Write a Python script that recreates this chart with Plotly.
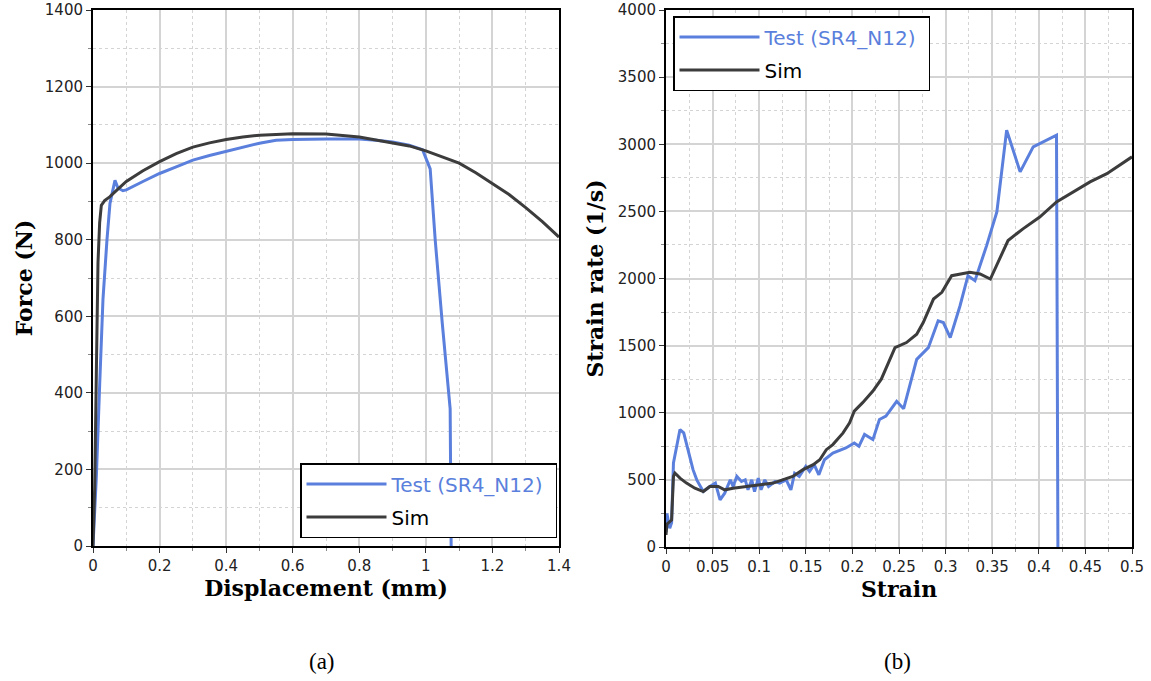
import plotly.graph_objects as go

# ---------------- data ----------------
# (a) Force vs displacement
test_disp = [0, 0.01, 0.02, 0.03, 0.042, 0.051, 0.066, 0.075, 0.09, 0.1, 0.15, 0.2, 0.25, 0.3, 0.35,
             0.4, 0.45, 0.5, 0.55, 0.6, 0.7, 0.8, 0.85, 0.9, 0.95, 0.99, 1.013, 1.028, 1.049,
             1.073, 1.076]
test_force = [0, 180, 420, 645, 800, 895, 955, 935, 928, 930, 952, 973, 990, 1008, 1020,
              1030, 1042, 1052, 1060, 1062, 1063, 1063, 1060, 1055, 1047, 1035, 985, 800, 585,
              358, 0]

sim_disp = [0, 0.005, 0.01, 0.015, 0.02, 0.025, 0.035, 0.05, 0.07, 0.1, 0.15, 0.2, 0.25, 0.3,
            0.35, 0.4, 0.45, 0.5, 0.6, 0.7, 0.8, 0.9, 0.95, 1.0, 1.05, 1.1, 1.15, 1.2, 1.25,
            1.3, 1.35, 1.4]
sim_force = [0, 150, 450, 740, 845, 890, 902, 912, 928, 952, 980, 1004, 1025, 1042, 1053,
             1062, 1068, 1073, 1077, 1076, 1068, 1053, 1045, 1032, 1017, 1000, 975, 947, 918,
             884, 847, 807]

# (b) Strain rate vs strain
test_strain = [0, 0.001, 0.004, 0.006, 0.008, 0.015, 0.019, 0.029, 0.033, 0.04, 0.047, 0.053,
               0.058, 0.063, 0.069, 0.072, 0.076, 0.081, 0.085, 0.088, 0.092, 0.095, 0.099,
               0.102, 0.106, 0.110, 0.117, 0.122, 0.129, 0.134, 0.138, 0.143, 0.150, 0.154,
               0.159, 0.164, 0.170, 0.179, 0.193, 0.202, 0.207, 0.213, 0.222, 0.229, 0.236,
               0.2475, 0.255, 0.269, 0.2815, 0.292, 0.2976, 0.305, 0.3155, 0.324, 0.3315,
               0.344, 0.355, 0.3655, 0.38, 0.394, 0.419, 0.4205]
test_rate = [110, 250, 140, 180, 626, 875, 850, 576, 500, 413, 451, 476,
             351, 401, 501, 451, 526, 488, 501, 426, 500, 413, 513,
             426, 500, 450, 488, 476, 500, 426, 550, 526, 600, 563,
             613, 538, 650, 700, 738, 775, 750, 838, 800, 950, 975,
             1085, 1030, 1398, 1485, 1685, 1672, 1560, 1797, 2021, 1984,
             2245, 2495, 3105, 2794, 2981, 3068, 0]

sim_strain = [0, 0.001, 0.006, 0.008, 0.0096, 0.015, 0.022, 0.031, 0.04, 0.047, 0.056, 0.063,
              0.072, 0.086, 0.1, 0.115, 0.125, 0.136, 0.147, 0.158, 0.165, 0.172, 0.179, 0.19,
              0.197, 0.202, 0.211, 0.222, 0.231, 0.2386, 0.2457, 0.258, 0.269, 0.276, 0.287,
              0.296, 0.3065, 0.326, 0.337, 0.348, 0.358, 0.367, 0.383, 0.401, 0.419, 0.437,
              0.455, 0.473, 0.5]
sim_rate = [90, 170, 200, 526, 551, 513, 476, 438, 413, 451, 451, 426,
            438, 451, 463, 476, 500, 526, 576, 613, 650, 725, 763, 850,
            925, 1012, 1075, 1162, 1250, 1373, 1485, 1523, 1585, 1672, 1847,
            1897, 2021, 2046, 2034, 1996, 2146, 2283, 2370, 2458, 2570, 2645,
            2720, 2781, 2906]

test_name = "Test (SR4_N12)"
sim_name = "Sim"
panel_labels = ["(a)", "(b)"]

# ---------------- style ----------------
BLUE = "#5a7fdc"
DARK = "#3c3c3c"
GRID = "#d4d4d4"
W, H = 1151, 681

fig = go.Figure()

test_label = f"<span style='color:{BLUE}'>{test_name}</span>&nbsp;"
fig.add_trace(go.Scatter(x=test_disp, y=test_force, mode="lines", name=test_label,
                         line=dict(color=BLUE, width=3), xaxis="x", yaxis="y",
                         legend="legend", legendgroup="t1"))
fig.add_trace(go.Scatter(x=sim_disp, y=sim_force, mode="lines", name=sim_name,
                         line=dict(color=DARK, width=3), xaxis="x", yaxis="y",
                         legend="legend", legendgroup="s1"))
fig.add_trace(go.Scatter(x=test_strain, y=test_rate, mode="lines", name=test_label,
                         line=dict(color=BLUE, width=3), xaxis="x2", yaxis="y2",
                         legend="legend2", legendgroup="t2"))
fig.add_trace(go.Scatter(x=sim_strain, y=sim_rate, mode="lines", name=sim_name,
                         line=dict(color=DARK, width=3), xaxis="x2", yaxis="y2",
                         legend="legend2", legendgroup="s2"))

tickfont = dict(family="DejaVu Sans", size=15, color="#222222")
titlefont = dict(family="DejaVu Serif", size=22, color="black", weight="bold")


def axis(dom, rng, dtick, minor, title, standoff, anchor):
    return dict(
        domain=dom, range=rng, dtick=dtick, tick0=0, anchor=anchor,
        showline=True, linecolor="black", linewidth=2, mirror=True,
        ticks="outside", ticklen=5, tickcolor="#333333", tickwidth=1,
        showgrid=True, gridcolor=GRID, gridwidth=1.5,
        minor=dict(dtick=minor, tick0=0, showgrid=True, gridcolor=GRID, griddash="dot",
                   gridwidth=1, ticks="outside", ticklen=3, tickcolor="#888888"),
        zeroline=False, tickfont=tickfont, automargin=False,
        title=dict(text=title, font=titlefont, standoff=standoff),
    )


legend_common = dict(xanchor="left", yanchor="top", bgcolor="white", bordercolor="black",
                     borderwidth=1.5, font=dict(family="DejaVu Sans", size=20, color="black"),
                     tracegroupgap=4, itemwidth=80)

fig.update_layout(
    width=W, height=H,
    margin=dict(l=0, r=0, t=0, b=0),
    paper_bgcolor="white", plot_bgcolor="white",
    xaxis=axis([93 / W, 559 / W], [0, 1.4], 0.2, 0.1, "Displacement (mm)", 3, "y"),
    yaxis=axis([1 - 546 / H, 1 - 10 / H], [0, 1400], 200, 100, "Force (N)", 6, "x"),
    xaxis2=axis([666 / W, 1132 / W], [0, 0.5], 0.05, 0.025, "Strain", 3, "y2"),
    yaxis2=axis([1 - 547 / H, 1 - 10 / H], [0, 4000], 500, 250, "Strain rate (1/s)", 8, "x2"),
    legend=dict(x=300 / W, y=1 - 463 / H, **legend_common),
    legend2=dict(x=673 / W, y=1 - 16 / H, **legend_common),
    showlegend=True,
)

for lab, xc in zip(panel_labels, [322, 897]):
    fig.add_annotation(text=lab, x=xc / W, y=1 - 661 / H, xref="paper", yref="paper",
                       xanchor="center", yanchor="middle",
                       showarrow=False, font=dict(family="Liberation Serif", size=23, color="black"))

fig.write_html("out.html")
